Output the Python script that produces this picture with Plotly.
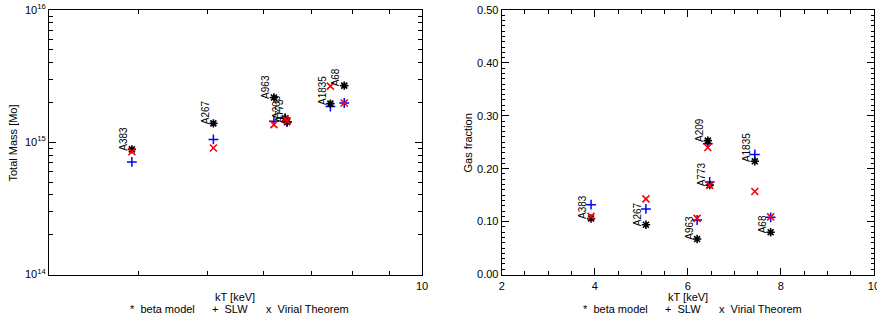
import numpy as np
import plotly.graph_objects as go

clusters = ["A383", "A267", "A963", "A209", "A773", "A1835", "A68"]
kT = [3.92, 5.10, 6.20, 6.43, 6.47, 7.44, 7.78]

mass_beta = [8.83e14, 1.39e15, 2.18e15, 1.52e15, 1.42e15, 1.96e15, 2.68e15]
mass_slw = [7.1e14, 1.05e15, 1.44e15, 1.52e15, 1.42e15, 1.86e15, 1.98e15]
mass_vir = [8.48e14, 9.04e14, 1.36e15, 1.50e15, 1.45e15, 2.66e15, 1.98e15]

fgas_beta = [0.106, 0.094, 0.067, 0.253, 0.169, 0.214, 0.080]
fgas_slw = [0.132, 0.124, 0.103, 0.247, 0.175, 0.227, 0.108]
fgas_vir = [0.110, 0.143, 0.106, 0.240, 0.169, 0.157, 0.109]

mass_ticks = [1e14, 1e15, 1e16]
mass_ticktext = ["10<sup>14</sup>", "10<sup>15</sup>", "10<sup>16</sup>"]
kt_log_ticks = [10]
fgas_ticks = [0.0, 0.1, 0.2, 0.3, 0.4, 0.5]
fgas_ticktext = ["0.00", "0.10", "0.20", "0.30", "0.40", "0.50"]
kt_lin_ticks = [2, 4, 6, 8, 10]
legend_items = ["*  beta model", "+  SLW", "x  Virial Theorem"]

FONT = "Liberation Sans, Arial, sans-serif"
W, H = 877, 320

fig = go.Figure()


def add_all(ybeta, yslw, yvir, xa, ya):
    fig.add_trace(go.Scatter(x=kT, y=yslw, mode="markers", xaxis=xa, yaxis=ya,
                             marker=dict(symbol="cross-thin-open", size=7, color="blue",
                                         line=dict(color="blue", width=1.5)),
                             showlegend=False))
    fig.add_trace(go.Scatter(x=kT, y=ybeta, mode="markers", xaxis=xa, yaxis=ya,
                             marker=dict(symbol="asterisk-open", size=7, color="black",
                                         line=dict(color="black", width=1.6)),
                             showlegend=False))
    fig.add_trace(go.Scatter(x=kT, y=yvir, mode="markers", xaxis=xa, yaxis=ya,
                             marker=dict(symbol="x-thin-open", size=7, color="red",
                                         line=dict(color="red", width=1.6)),
                             showlegend=False))


add_all(mass_beta, mass_slw, mass_vir, "x", "y")
add_all(fgas_beta, fgas_slw, fgas_vir, "x2", "y2")

ydom = [1 - 274.5 / H, 1 - 10 / H]
axis_common = dict(showline=True, linecolor="black", linewidth=1, mirror="allticks",
                   ticks="inside", tickcolor="black", showgrid=False, zeroline=False,
                   automargin=False, ticklabeloverflow="allow",
                   tickfont=dict(family=FONT, size=11, color="black"))

fig.update_layout(
    template="none",
    width=W, height=H, margin=dict(l=0, r=0, t=0, b=0, autoexpand=False),
    paper_bgcolor="white", plot_bgcolor="white", showlegend=False,
    xaxis=dict(domain=[49 / W, 422 / W], type="log", range=[np.log10(3), 1.0],
               tickmode="array", tickvals=kt_log_ticks, ticklen=6, ticklabelstandoff=1,
               minor=dict(tickmode="array", tickvals=[4, 5, 6, 7, 8, 9], ticklen=4,
                          ticks="inside", tickcolor="black", showgrid=False),
               anchor="y", **axis_common),
    yaxis=dict(domain=ydom, type="log", range=[14, 16],
               tickmode="array", tickvals=mass_ticks, ticktext=mass_ticktext, ticklen=7,
               minor=dict(tickmode="array",
                          tickvals=[k * 10 ** e for e in (14, 15) for k in range(2, 10)],
                          ticklen=4, ticks="inside", tickcolor="black", showgrid=False),
               anchor="x", **axis_common),
    xaxis2=dict(domain=[501.7 / W, 874 / W], range=[2, 10.001],
                tickmode="array", tickvals=kt_lin_ticks, ticklen=7, ticklabelstandoff=1,
                minor=dict(dtick=0.5, ticklen=4, ticks="inside", tickcolor="black",
                           showgrid=False),
                anchor="y2", **axis_common),
    yaxis2=dict(domain=ydom, range=[0, 0.5],
                tickmode="array", tickvals=fgas_ticks, ticktext=fgas_ticktext, ticklen=7,
                minor=dict(dtick=0.01, ticklen=3, ticks="inside", tickcolor="black",
                           showgrid=False),
                anchor="x2", **axis_common),
)

# cluster labels
for i, name in enumerate(clusters):
    for xr, yr, yv in (("x", "y", mass_beta[i]), ("x2", "y2", fgas_beta[i])):
        fig.add_annotation(x=np.log10(kT[i]) if xr == "x" else kT[i],
                           y=np.log10(yv) if yr == "y" else yv,
                           xref=xr, yref=yr, text=name, showarrow=False,
                           textangle=-90, xanchor="center", yanchor="bottom",
                           xshift=-8.5, yshift=-3,
                           font=dict(family=FONT, size=10, color="black"))

# axis titles and legend text
legend_x = [128, 210, 264]
for dx in (0, 452.7):
    fig.add_annotation(x=(235 + dx) / W, y=1 - 297 / H, xref="paper", yref="paper",
                       text="kT [keV]", showarrow=False, xanchor="center", yanchor="middle",
                       font=dict(family=FONT, size=11, color="black"))
    for lx, txt in zip(legend_x, legend_items):
        fig.add_annotation(x=(lx + dx) / W, y=1 - 308.5 / H, xref="paper", yref="paper",
                           text=txt, showarrow=False, xanchor="left", yanchor="middle",
                           font=dict(family=FONT, size=11, color="black"))

fig.add_annotation(x=12.5 / W, y=1 - 143 / H, xref="paper", yref="paper",
                   text="Total Mass [Mo]", textangle=-90, showarrow=False,
                   xanchor="center", yanchor="middle",
                   font=dict(family=FONT, size=11, color="black"))
fig.add_annotation(x=467.5 / W, y=1 - 143 / H, xref="paper", yref="paper",
                   text="Gas fraction", textangle=-90, showarrow=False,
                   xanchor="center", yanchor="middle",
                   font=dict(family=FONT, size=11, color="black"))

fig.write_html("out.html", config={"displayModeBar": False},
               post_script="document.body.style.margin='0';"
                           "document.body.style.overflow='hidden';")
